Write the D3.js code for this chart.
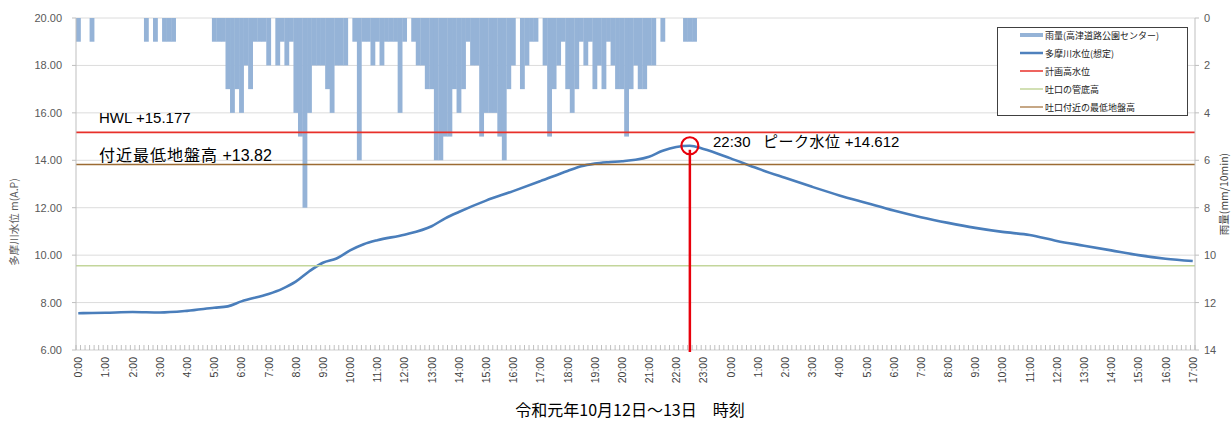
<!DOCTYPE html>
<html><head><meta charset="utf-8">
<script src="https://cdn.jsdelivr.net/npm/d3@7"></script>
<style>
body{margin:0;background:#fff;}
svg{display:block;font-family:"Liberation Sans",Arial,sans-serif;}
</style>
</head><body>
<svg id="c" width="1232" height="423"></svg>
<script>
// ---- data ----
const hourLabels = ["0:00","1:00","2:00","3:00","4:00","5:00","6:00","7:00","8:00","9:00","10:00","11:00","12:00","13:00","14:00","15:00","16:00","17:00","18:00","19:00","20:00","21:00","22:00","23:00",
  "0:00","1:00","2:00","3:00","4:00","5:00","6:00","7:00","8:00","9:00","10:00","11:00","12:00","13:00","14:00","15:00","16:00","17:00"];
const slotCount = 247; // 10-minute slots, 12th 0:00 .. 13th 17:00
// rain (mm/10min) per 10-minute slot starting 12th 0:00
const rain = [
  1,0,0,1,0,0,0,0,0,0,
  0,0,0,0,0,1,0,1,0,1,
  1,1,0,0,0,0,0,0,0,0,
  1,1,1,3,4,3,4,2,3,1,
  1,1,2,0,2,1,2,1,4,5,
  8,4,2,2,2,3,4,2,2,2,
  0,1,6,1,1,2,1,2,1,1,
  1,4,1,0,1,2,2,3,3,6,
  6,5,5,3,4,3,1,2,2,5,
  4,4,4,5,6,3,2,0,3,2,
  1,1,0,2,5,3,2,1,3,4,
  3,1,2,1,3,2,3,1,2,3,
  3,5,3,2,3,3,2,2,0,1,
  0,0,0,0,1,1,1,0
];
// river water level (m, A.P.) — hours from 12th 0:00
const levelHours  = [0,1,2,3,4,5,5.5,6,7,7.5,8,8.5,9,9.5,10,10.5,11,12,13,13.5,14,15,16,17,18,18.5,19,19.5,20,20.5,21,21.5,22,22.5,23,24,25,26,27,28,29,30,31,32,33,34,35,36,37,38,39,40,41];
const levelValues = [7.55,7.57,7.6,7.58,7.65,7.78,7.84,8.05,8.36,8.58,8.88,9.32,9.68,9.86,10.2,10.46,10.63,10.86,11.22,11.55,11.82,12.3,12.7,13.12,13.55,13.75,13.86,13.92,13.96,14.02,14.15,14.4,14.56,14.612,14.48,14.08,13.65,13.26,12.88,12.52,12.2,11.88,11.6,11.36,11.15,10.98,10.85,10.6,10.4,10.2,10.0,9.85,9.75];
const hwl = 15.177, groundLevel = 13.82, pipeLevel = 9.55;
const peakHour = 22.5, peakValue = 14.612;
const leftTicks = [6,8,10,12,14,16,18,20];
const rightTicks = [0,2,4,6,8,10,12,14];
const legendItems = [
  {name:"雨量(高津道路公園センター)", color:"#95b3d7", w:4},
  {name:"多摩川水位(想定)", color:"#4f81bd", w:2.5},
  {name:"計画高水位", color:"#e8302a", w:1.5},
  {name:"吐口の管底高", color:"#c3d69b", w:1.5},
  {name:"吐口付近の最低地盤高", color:"#b38a5c", w:1.5}
];

// ---- layout ----
const L = 76, R = 1195, T = 18, B = 350;
const svg = d3.select("#c");
const xb = d3.scaleBand().domain(d3.range(slotCount)).range([L, R]).padding(0);
const bw = xb.bandwidth();
const xh = d3.scaleLinear().domain([0, 1/6]).range([xb(0)+bw/2, xb(1)+bw/2]);
const y = d3.scaleLinear().domain([6, 20]).range([B, T]);
const yr = d3.scaleLinear().domain([0, 14]).range([T, B]);
const CJK = "'Noto Sans CJK JP',sans-serif";

// gridlines
svg.append("g").selectAll("line").data(leftTicks.filter(d=>d>6)).join("line")
  .attr("x1", L).attr("x2", R).attr("y1", d=>y(d)).attr("y2", d=>y(d))
  .attr("stroke", "#dcdcdc").attr("stroke-width", 1);

// rain bars
svg.append("g").selectAll("rect").data(rain.map((v,i)=>({i,v})).filter(d=>d.v>0)).join("rect")
  .attr("x", d=>xb(d.i)).attr("width", bw+0.3)
  .attr("y", yr(0)).attr("height", d=>yr(d.v)-yr(0))
  .attr("fill", "#95b3d7");

// water level line
const line = d3.line().x((d,i)=>xh(levelHours[i])).y(d=>y(d)).curve(d3.curveMonotoneX);
svg.append("path").datum(levelValues).attr("d", line)
  .attr("fill","none").attr("stroke","#4a7ebb").attr("stroke-width",2.6);

// reference lines
const refs = [{v:pipeLevel,c:"#c3d69b",w:1.6},{v:groundLevel,c:"#9c6b33",w:1.6},{v:hwl,c:"#e8302a",w:1.6}];
svg.append("g").selectAll("line").data(refs).join("line")
  .attr("x1", L).attr("x2", R).attr("y1", d=>y(d.v)).attr("y2", d=>y(d.v))
  .attr("stroke", d=>d.c).attr("stroke-width", d=>d.w);

// axes lines
svg.append("line").attr("x1",L).attr("x2",L).attr("y1",T).attr("y2",B).attr("stroke","#bfbfbf");
svg.append("line").attr("x1",R).attr("x2",R).attr("y1",T).attr("y2",B).attr("stroke","#bfbfbf");
svg.append("line").attr("x1",L).attr("x2",R).attr("y1",B).attr("y2",B).attr("stroke","#d0d0d0");
// minor category ticks
svg.append("g").selectAll("line").data(d3.range(slotCount+1)).join("line")
  .attr("x1", d=>L + d*bw).attr("x2", d=>L + d*bw).attr("y1", B-5).attr("y2", B)
  .attr("stroke", "#b0b0b0").attr("stroke-width", 0.8);

// left axis
const gl = svg.append("g");
gl.selectAll("text").data(leftTicks).join("text")
  .attr("x", 62).attr("y", d=>y(d)+4).attr("text-anchor","end")
  .attr("font-size", 11).attr("fill","#595959").text(d=>d.toFixed(2));
gl.selectAll("line").data(leftTicks).join("line")
  .attr("x1",72).attr("x2",L).attr("y1",d=>y(d)).attr("y2",d=>y(d)).attr("stroke","#bfbfbf");
svg.append("text").attr("transform",`translate(18,222) rotate(-90)`)
  .attr("text-anchor","middle").attr("font-size",10.5).attr("fill","#595959")
  .style("font-family",CJK).text("多摩川水位 m(A.P)");

// right axis
const gr = svg.append("g");
gr.selectAll("text").data(rightTicks).join("text")
  .attr("x", 1204).attr("y", d=>yr(d)+4).attr("text-anchor","start")
  .attr("font-size", 11).attr("fill","#595959").text(d=>d);
gr.selectAll("line").data(rightTicks).join("line")
  .attr("x1",R).attr("x2",R+4).attr("y1",d=>yr(d)).attr("y2",d=>yr(d)).attr("stroke","#bfbfbf");
svg.append("text").attr("transform",`translate(1228,194) rotate(-90)`)
  .attr("text-anchor","middle").attr("font-size",10.5).attr("fill","#404040")
  .style("font-family",CJK).text("雨量(mm/10min)");

// x labels
svg.append("g").selectAll("text").data(hourLabels).join("text")
  .attr("transform",(d,i)=>`translate(${xh(i)+4},357) rotate(-90)`)
  .attr("text-anchor","end").attr("font-size",10.5).attr("fill","#404040").text(d=>d);
svg.append("text").attr("x", 630).attr("y", 416).attr("text-anchor","middle")
  .attr("font-size",16).attr("fill","#000")
  .style("font-family",CJK).text("令和元年10月12日～13日　時刻");

// annotations
const ann = svg.append("g").attr("fill","#000");
ann.append("text").attr("x",99).attr("y",123).attr("font-size",15).text("HWL +15.177");
const g2 = ann.append("text").attr("x",99).attr("y",161).attr("font-size",16);
g2.append("tspan").style("font-family",CJK).attr("letter-spacing",1).text("付近最低地盤高");
g2.append("tspan").text(" +13.82");
const g3 = ann.append("text").attr("x",713).attr("y",147).attr("font-size",15);
g3.append("tspan").text("22:30");
g3.append("tspan").attr("x",763).style("font-family",CJK).attr("letter-spacing",0.5).text("ピーク水位");
g3.append("tspan").text(" +14.612");
svg.append("line").attr("x1",xh(peakHour)).attr("x2",xh(peakHour)).attr("y1",y(peakValue)+4).attr("y2",B+2)
  .attr("stroke","#e8000b").attr("stroke-width",2.5);
svg.append("circle").attr("cx",xh(peakHour)).attr("cy",y(peakValue)).attr("r",8.5)
  .attr("fill","none").attr("stroke","#e8000b").attr("stroke-width",2.2);

// legend
const lg = svg.append("g");
lg.append("rect").attr("x",997.5).attr("y",27.5).attr("width",190).attr("height",88)
  .attr("fill","#fff").attr("stroke","#404040").attr("stroke-width",1);
const li = lg.selectAll("g").data(legendItems).join("g")
  .attr("transform",(d,i)=>`translate(1020,${35+i*18})`);
li.append("line").attr("x1",0).attr("x2",23).attr("y1",0).attr("y2",0)
  .attr("stroke",d=>d.color).attr("stroke-width",d=>d.w);
li.append("text").attr("x",25).attr("y",3.5).attr("font-size",9).attr("fill","#222")
  .style("font-family",CJK).text(d=>d.name);
</script>
</body></html>
